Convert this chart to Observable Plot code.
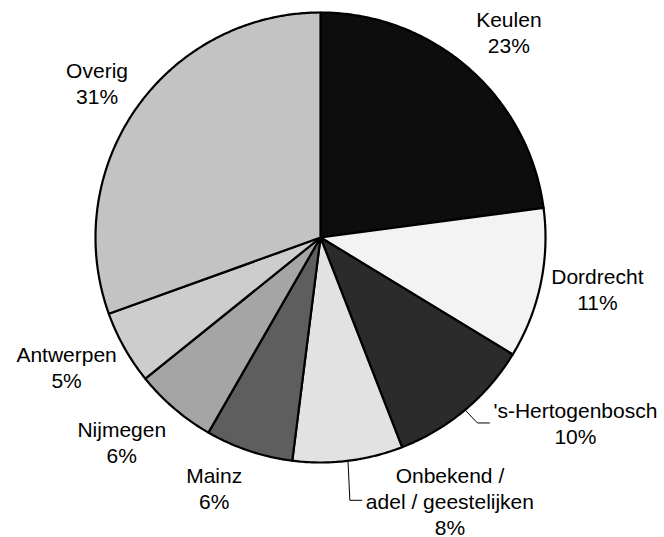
<!DOCTYPE html>
<html>
<head>
<meta charset="utf-8">
<script src="https://cdn.jsdelivr.net/npm/d3@7"></script>
<script src="https://cdn.jsdelivr.net/npm/@observablehq/plot@0.6"></script>
<style>
  html, body { margin: 0; padding: 0; background: #fff; }
  #chart { width: 664px; height: 537px; }
</style>
</head>
<body>
<div id="chart"></div>
<script>
// ---- data ----
const categories = ["Keulen", "Dordrecht", "'s-Hertogenbosch", "Onbekend /\nadel / geestelijken", "Mainz", "Nijmegen", "Antwerpen", "Overig"];
const values = [22.9, 10.8, 10.4, 7.9, 6.3, 5.9, 5.3, 30.5];
const colors = ["#0d0d0d", "#f3f3f3", "#2b2b2b", "#e2e2e2", "#5e5e5e", "#a5a5a5", "#cdcdcd", "#c3c3c3"];

// ---- layout (label placement relative to slice mid-angle) ----
const labelAngleShift = [1.2, -1.5, -14.0, -19.2, 4.5, 3.7, 2.3, -0.4]; // degrees
const labelRadius = [1.241, 1.251, 1.401, 1.302, 1.207, 1.267, 1.267, 1.208]; // in pie radii
const hasLeader = [false, false, true, true, false, false, false, false];

const W = 664, H = 537, R = 225, CX = 320, CY = 237;
const FONT = 21, LH = 1.24;

const total = d3.sum(values);
const toRad = a => a * Math.PI / 180;
const pol = (deg, r) => ({u: Math.sin(toRad(deg)) * r, v: Math.cos(toRad(deg)) * r});

// slices
const slices = [];
const polys = [];
let acc = 0;
categories.forEach((c, i) => {
  const a0 = acc / total * 360;
  acc += values[i];
  const a1 = acc / total * 360;
  slices.push({cat: c, i, a0, a1, mid: (a0 + a1) / 2, pct: Math.round(values[i] / total * 100)});
  polys.push({cat: c, u: 0, v: 0});
  const n = Math.max(2, Math.ceil((a1 - a0) / 0.5));
  for (let k = 0; k <= n; k++) {
    const p = pol(a0 + (a1 - a0) * k / n, 1);
    polys.push({cat: c, u: p.u, v: p.v});
  }
  polys.push({cat: c, u: 0, v: 0});
});

// text measurement
const ctx = document.createElement("canvas").getContext("2d");
ctx.font = `${FONT}px "Liberation Sans", Arial, sans-serif`;

const labels = slices.map(s => {
  const p = pol(s.mid + labelAngleShift[s.i], labelRadius[s.i]);
  const text = categories[s.i] + "\n" + s.pct + "%";
  return {cat: s.cat, i: s.i, u: p.u, v: p.v, text};
});

const leaders = [];
slices.forEach(s => {
  if (!hasLeader[s.i]) return;
  const L = labels[s.i];
  const lines = L.text.split("\n");
  const w = d3.max(lines, t => ctx.measureText(t).width);
  const P = pol(s.mid, 1);
  const E = {u: L.u - (w / 2 + 4) / R, v: L.v};
  const M = {u: Math.max(P.u, E.u - 12 / R), v: E.v};
  [P, M, E].forEach(q => leaders.push({cat: s.cat, u: q.u, v: q.v}));
});

const chart = Plot.plot({
  width: W,
  height: H,
  margin: 0,
  x: {domain: [-CX / R, (W - CX) / R], range: [0, W], axis: null},
  y: {domain: [-(H - CY) / R, CY / R], range: [H, 0], axis: null},
  color: {domain: categories, range: colors},
  style: {background: "#fff", fontFamily: '"Liberation Sans", Arial, sans-serif'},
  marks: [
    Plot.line(polys, {x: "u", y: "v", z: "cat", fill: "cat", stroke: "#000", strokeWidth: 2.2, strokeLinejoin: "round"}),
    Plot.line(leaders, {x: "u", y: "v", z: "cat", stroke: "#000", strokeWidth: 1}),
    Plot.text(labels, {x: "u", y: "v", text: "text", fontSize: FONT, lineHeight: LH, textAnchor: "middle", lineAnchor: "middle", fill: "#000"})
  ]
});
document.getElementById("chart").appendChild(chart);
</script>
</body>
</html>
